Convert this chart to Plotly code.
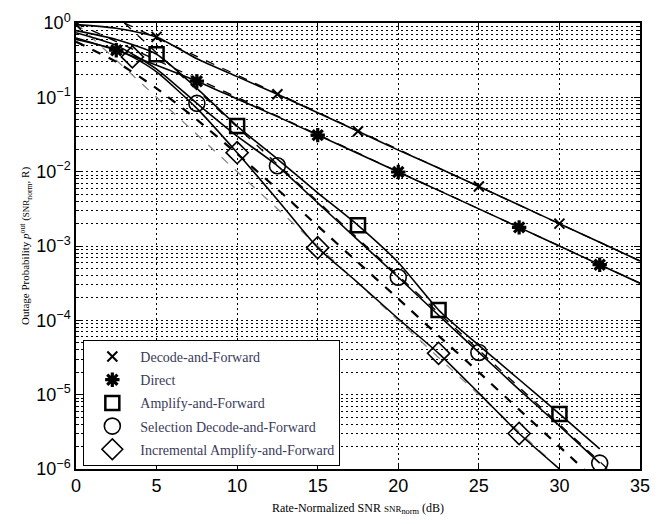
import plotly.graph_objects as go

# ---------------- data ----------------
snr = [0, 2.5, 5, 7.5, 10, 12.5, 15, 17.5, 20, 22.5, 25, 27.5, 30, 32.5, 35]

df_p = [0.95, 0.85, 0.65, 0.33, 0.19, 0.11, 0.062, 0.035, 0.0195, 0.0112,
        0.0063, 0.00355, 0.002, 0.00112, 0.00063]
direct_p = [0.63, 0.43, 0.27, 0.165, 0.095, 0.055, 0.031, 0.0176, 0.0099, 0.0056,
            0.00316, 0.00178, 0.001, 0.00056, 0.000316]

af_x = [0, 2.5, 5, 7.5, 10, 12.5, 15, 17.5, 20, 22.5, 25, 27.5, 30, 32.5]
af_p = [0.79, 0.60, 0.38, 0.132, 0.041, 0.0148, 0.0052, 0.0019, 6.0e-4, 1.38e-4,
        4.6e-5, 1.6e-5, 5.5e-6, 1.86e-6]

sdf_x = [0, 2.5, 5, 7.5, 10, 12.5, 15, 17.5, 20, 22.5, 25, 27.5, 30, 32.5]
sdf_p = [0.74, 0.50, 0.24, 0.083, 0.030, 0.012, 0.0038, 0.0012, 3.8e-4, 1.17e-4,
         3.7e-5, 1.17e-5, 3.8e-6, 1.2e-6]

iaf_x = [0, 2.5, 3.5, 5, 7.5, 10, 12.5, 15, 17.5, 20, 22.5, 25, 27.5, 30]
iaf_p = [0.60, 0.44, 0.35, 0.22, 0.071, 0.018, 0.0042, 9.5e-4, 3.2e-4, 1.05e-4,
         3.6e-5, 1.05e-5, 3.0e-6, 1.0e-6]

# marker positions on each curve
df_mx = [0, 5, 12.5, 17.5, 25, 30]
df_my = [0.95, 0.65, 0.11, 0.035, 0.0063, 0.002]
direct_mx = [2.5, 7.5, 15, 20, 27.5, 32.5]
direct_my = [0.43, 0.165, 0.031, 0.0099, 0.00178, 0.00056]
af_mx = [5, 10, 17.5, 22.5, 30]
af_my = [0.38, 0.041, 0.0019, 1.38e-4, 5.5e-6]
sdf_mx = [7.5, 12.5, 20, 25, 32.5]
sdf_my = [0.083, 0.012, 3.8e-4, 3.7e-5, 1.2e-6]
iaf_mx = [3.5, 10, 15, 22.5, 27.5]
iaf_my = [0.35, 0.018, 9.5e-4, 3.6e-5, 3.0e-6]

# dashed curves (high-SNR approximations / benchmark)
bench_x = [0, 2.5, 5, 7.5, 10, 12.5, 15, 17.5, 20, 22.5, 25, 27.5, 30, 32.5]
bench_p = [0.56, 0.30, 0.132, 0.050, 0.0174, 0.0058, 0.00186, 6.0e-4, 1.95e-4,
           6.2e-5, 2.0e-5, 6.3e-6, 2.0e-6, 6.3e-7]
approx2_x = [3, 33]
approx2_p = [1.0, 1.0e-6]
approx_iaf_x = [0, 30]
approx_iaf_p = [1.0, 1.0e-6]
approx_df_x = [3, 35]
approx_df_p = [1.0, 6.3e-4]
approx_dir_x = [0, 35]
approx_dir_p = [1.0, 3.16e-4]

y_tickvals = [1, 1e-1, 1e-2, 1e-3, 1e-4, 1e-5, 1e-6]
y_ticktext = ["10<sup>0</sup>", "10<sup>\u22121</sup>", "10<sup>\u22122</sup>", "10<sup>\u22123</sup>",
              "10<sup>\u22124</sup>", "10<sup>\u22125</sup>", "10<sup>\u22126</sup>"]

names = ["Decode-and-Forward", "Direct", "Amplify-and-Forward",
         "Selection Decode-and-Forward", "Incremental Amplify-and-Forward"]

# ---------------- figure ----------------
fig = go.Figure()

def line(x, y, dash="solid", width=1.6, color="black"):
    fig.add_trace(go.Scatter(x=x, y=y, mode="lines", showlegend=False,
                             line=dict(color=color, width=width, dash=dash, shape="spline", smoothing=0.6),
                             hoverinfo="skip"))

# dashed curves first
line(approx_dir_x, approx_dir_p, dash="dash", width=1.3)
line(approx_df_x, approx_df_p, dash="dash", width=1.3)
line(approx2_x, approx2_p, dash="dash", width=1.3)
line(approx_iaf_x, approx_iaf_p, dash="dash", width=1.3, color="#888888")
line(bench_x, bench_p, dash="dash", width=2.2)

# solid curves
line(snr, df_p)
line(snr, direct_p)
line(af_x, af_p)
line(sdf_x, sdf_p)
line(iaf_x, iaf_p)

marker_specs = [
    (df_mx, df_my, dict(symbol="x-thin-open", size=10, line=dict(width=2, color="black"))),
    (direct_mx, direct_my, dict(symbol="asterisk-open", size=12, line=dict(width=3.2, color="black"))),
    (af_mx, af_my, dict(symbol="square-open", size=14, line=dict(width=2.5, color="black"))),
    (sdf_mx, sdf_my, dict(symbol="circle-open", size=16, line=dict(width=1.6, color="black"))),
    (iaf_mx, iaf_my, dict(symbol="diamond-open", size=17, line=dict(width=1.6, color="black"))),
]
for i, (mx, my, mk) in enumerate(marker_specs):
    fig.add_trace(go.Scatter(x=mx, y=my, mode="markers", name=names[i],
                             marker=dict(color="black", **mk), legendgroup=str(i)))

grid_dash = "2px,3px"

fig.update_layout(
    width=661, height=524,
    margin=dict(l=76, r=11, t=20, b=51),
    paper_bgcolor="white", plot_bgcolor="white",
    font=dict(family="Liberation Sans, Arial", color="black"),
    showlegend=True,
    legend=dict(x=0.013, y=0.007, xanchor="left", yanchor="bottom",
                bordercolor="black", borderwidth=1, bgcolor="white",
                font=dict(family="Liberation Serif, Times New Roman", size=14, color="#3a3a5a"),
                tracegroupgap=2, itemwidth=46),
    xaxis=dict(range=[0, 35], dtick=5, tick0=0, showgrid=True, gridcolor="black",
               griddash=grid_dash, gridwidth=1, zeroline=False,
               showline=True, linecolor="black", linewidth=1.5, mirror="ticks",
               ticks="inside", ticklen=6, tickcolor="black",
               tickfont=dict(size=18, family="Liberation Sans, Arial"),
               title=dict(text="Rate-Normalized SNR <span style='font-size:9px'>SNR</span><sub>norm</sub> (dB)",
                          font=dict(family="Liberation Serif, Times New Roman", size=12), standoff=8)),
    yaxis=dict(type="log", range=[-6, 0], tickvals=y_tickvals, ticktext=y_ticktext,
               showgrid=True, gridcolor="black",
               griddash=grid_dash, gridwidth=1, zeroline=False,
               showline=True, linecolor="black", linewidth=1.5, mirror="ticks",
               ticks="inside", ticklen=6, tickcolor="black",
               tickfont=dict(size=18, family="Liberation Sans, Arial"),
               minor=dict(dtick="D1", showgrid=True, gridcolor="black", griddash=grid_dash,
                          gridwidth=1, ticks="inside", ticklen=3, tickcolor="black"),
               title=dict(text="Outage Probability <i>p</i><sup>out</sup> (<span style='font-size:9px'>SNR</span><sub>norm</sub>, R)",
                          font=dict(family="Liberation Serif, Times New Roman", size=11), standoff=4)),
)

fig.write_html("out.html")
